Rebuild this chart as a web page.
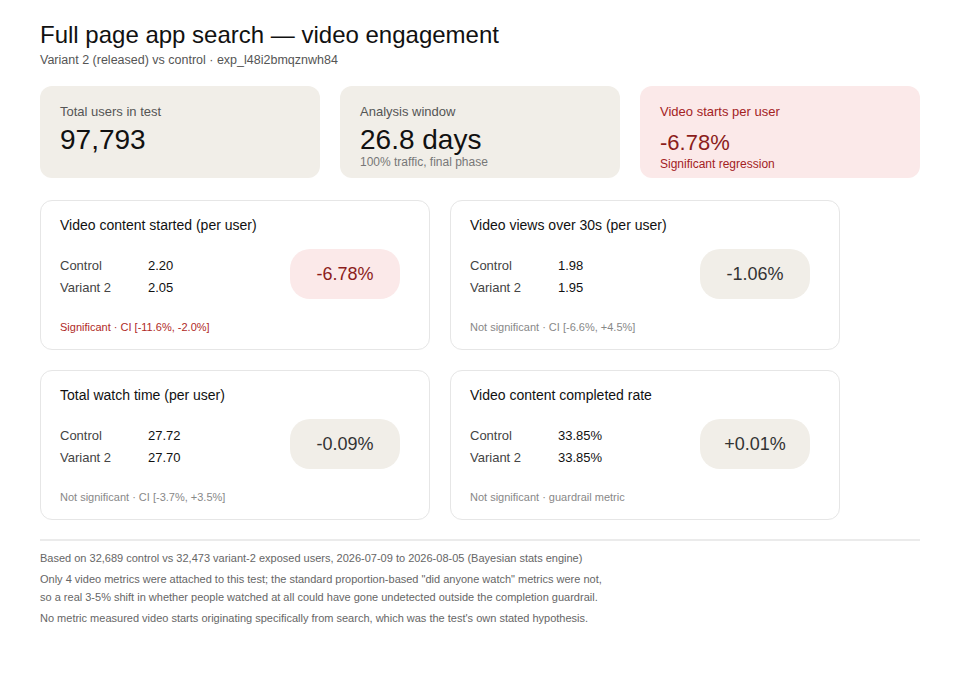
<!DOCTYPE html>
<html>
<head>
<meta charset="utf-8">
<script src="https://cdn.jsdelivr.net/npm/chart.js@4/dist/chart.umd.min.js"></script>
<style>
  html, body { margin: 0; padding: 0; background: #ffffff; }
  body { width: 960px; height: 700px; font-family: "Liberation Sans", Arial, Helvetica, sans-serif; color: #111; position: relative; }
  h1 { position: absolute; left: 40px; top: 21px; margin: 0; font-size: 24px; font-weight: normal; color: #111; }
  .sub { position: absolute; left: 40px; top: 53px; font-size: 12.5px; color: #555; }
  .kpi { position: absolute; top: 86px; width: 280px; height: 92px; border-radius: 12px; background: #f1eee8; box-sizing: border-box; padding: 18px 20px; }
  .kpi.bad { background: #fbe9e9; }
  .kpi .lab { font-size: 13px; color: #555; }
  .kpi.bad .lab, .kpi.bad .note { color: #a3221f; }
  .kpi .val { font-size: 28px; margin-top: 5px; line-height: 32px; color: #111; }
  .kpi.bad .val { font-size: 22px; color: #8c1d1b; margin-top: 9px; line-height: 30px; }
  .kpi .note { font-size: 12px; color: #777; margin-top: -1px; }
  .card { position: absolute; width: 390px; height: 150px; border: 1px solid #e6e6e6; border-radius: 12px; box-sizing: border-box; background: #fff; }
  .card .title { position: absolute; left: 19px; top: 16px; font-size: 14px; color: #111; }
  .card .row { position: absolute; left: 19px; font-size: 13px; color: #444; }
  .card .row span { position: absolute; left: 88px; color: #111; white-space: nowrap; }
  .card .pill { position: absolute; left: 249px; top: 48px; width: 110px; height: 50px; border-radius: 20px; background: #f1eee8; font-size: 18px; line-height: 50px; text-align: center; color: #333; }
  .card .pill.bad { background: #fbe9e9; color: #8c1d1b; }
  .card .foot { position: absolute; left: 19px; top: 120px; font-size: 11px; color: #888; }
  .card .foot.bad { color: #b02a27; }
  .rule { position: absolute; left: 40px; top: 539px; width: 880px; height: 2px; background: #ebebeb; }
  .fl { position: absolute; left: 40px; font-size: 11px; color: #666; white-space: nowrap; }
</style>
</head>
<body>
<h1>Full page app search — video engagement</h1>
<div class="sub">Variant 2 (released) vs control · exp_l48i2bmqznwh84</div>
<div id="root"></div>
<script>
// headline numbers
const kpiLabels = ['Total users in test', 'Analysis window', 'Video starts per user'];
const kpiValues = ['97,793', '26.8 days', '-6.78%'];
const kpiNotes = ['', '100% traffic, final phase', 'Significant regression'];
const kpiBad = [false, false, true];

// per-metric results
const metricNames = ['Video content started (per user)', 'Video views over 30s (per user)', 'Total watch time (per user)', 'Video content completed rate'];
const controlValues = ['2.20', '1.98', '27.72', '33.85%'];
const variantValues = ['2.05', '1.95', '27.70', '33.85%'];
const liftValues = ['-6.78%', '-1.06%', '-0.09%', '+0.01%'];
const metricNotes = ['Significant · CI [-11.6%, -2.0%]', 'Not significant · CI [-6.6%, +4.5%]', 'Not significant · CI [-3.7%, +3.5%]', 'Not significant · guardrail metric'];
const metricSignificant = [true, false, false, false];

const footerLines = [
  'Based on 32,689 control vs 32,473 variant-2 exposed users, 2026-07-09 to 2026-08-05 (Bayesian stats engine)',
  'Only 4 video metrics were attached to this test; the standard proportion-based "did anyone watch" metrics were not,',
  'so a real 3-5% shift in whether people watched at all could have gone undetected outside the completion guardrail.',
  'No metric measured video starts originating specifically from search, which was the test\'s own stated hypothesis.'
];

const root = document.getElementById('root');

kpiLabels.forEach((lab, i) => {
  const d = document.createElement('div');
  d.className = 'kpi' + (kpiBad[i] ? ' bad' : '');
  d.style.left = (40 + i * 300) + 'px';
  d.innerHTML = '<div class="lab"></div><div class="val"></div><div class="note"></div>';
  d.children[0].textContent = lab;
  d.children[1].textContent = kpiValues[i];
  d.children[2].textContent = kpiNotes[i];
  root.appendChild(d);
});

metricNames.forEach((name, i) => {
  const c = document.createElement('div');
  c.className = 'card';
  c.style.left = (40 + (i % 2) * 410) + 'px';
  c.style.top = (200 + Math.floor(i / 2) * 170) + 'px';
  c.innerHTML =
    '<div class="title"></div>' +
    '<div class="row" style="top:57px">Control<span></span></div>' +
    '<div class="row" style="top:79px">Variant 2<span></span></div>' +
    '<div class="pill"></div><div class="foot"></div>';
  c.children[0].textContent = name;
  c.children[1].querySelector('span').textContent = controlValues[i];
  c.children[2].querySelector('span').textContent = variantValues[i];
  c.children[3].textContent = liftValues[i];
  c.children[4].textContent = metricNotes[i];
  if (metricSignificant[i]) {
    c.children[3].classList.add('bad');
    c.children[4].classList.add('bad');
  }
  root.appendChild(c);
});

const rule = document.createElement('div');
rule.className = 'rule';
root.appendChild(rule);

const footTops = [552, 573, 591, 612];
footerLines.forEach((t, i) => {
  const f = document.createElement('div');
  f.className = 'fl';
  f.style.top = footTops[i] + 'px';
  f.textContent = t;
  root.appendChild(f);
});
</script>
</body>
</html>
